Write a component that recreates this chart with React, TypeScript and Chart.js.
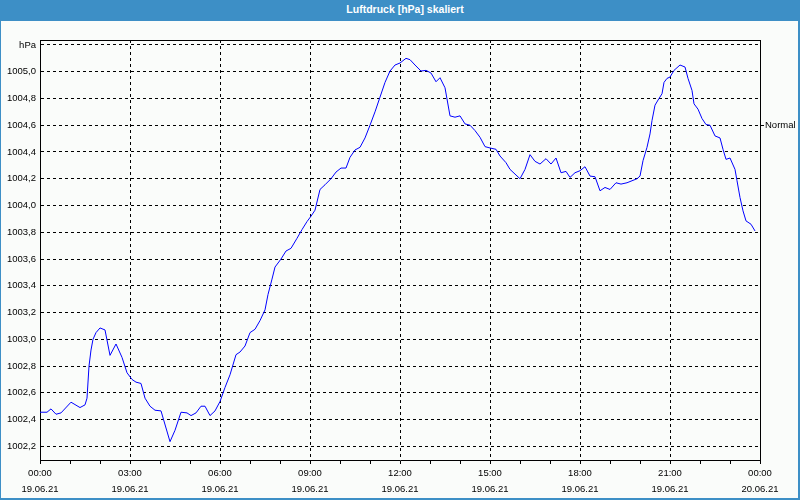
import React, { useEffect, useRef } from 'react';
import { Chart, registerables } from 'chart.js';

Chart.register(...registerables);

// minutes since 19.06.21 00:00
const timesMin = [
  0, 14, 22, 32, 42, 62, 80, 90, 94, 98, 102, 106, 112, 120, 130, 140, 152, 164, 174, 184,
  192, 202, 210, 220, 230, 242, 260, 270, 282, 294, 302, 312, 322, 330, 340, 350, 360, 370, 380, 392,
  400, 410, 420, 430, 440, 450, 456, 464, 470, 482, 492, 502, 514, 524, 534, 542, 550, 560, 570, 582,
  592, 602, 612, 620, 630, 640, 650, 660, 670, 680, 690, 700, 710, 720, 732, 740, 750, 762, 772, 782,
  792, 800, 810, 820, 830, 840, 850, 860, 870, 880, 890, 900, 912, 920, 932, 940, 950, 960, 970, 980,
  990, 1000, 1012, 1022, 1032, 1042, 1052, 1060, 1070, 1080, 1090, 1100, 1110, 1120, 1130, 1140, 1152, 1162, 1174, 1184,
  1194, 1200, 1206, 1214, 1220, 1224, 1230, 1238, 1244, 1248, 1254, 1260, 1268, 1280, 1290, 1296, 1304, 1308, 1316, 1324,
  1332, 1340, 1350, 1360, 1366, 1372, 1380, 1390, 1394, 1400, 1406, 1412, 1422, 1430,
];

const pressure = [
  1002.455, 1002.455, 1002.48, 1002.44, 1002.45, 1002.53, 1002.49, 1002.51, 1002.56, 1002.8, 1002.92, 1003.0, 1003.05, 1003.085, 1003.07, 1002.88, 1002.965, 1002.865, 1002.75, 1002.7,
  1002.68, 1002.67, 1002.56, 1002.5, 1002.47, 1002.465, 1002.235, 1002.32, 1002.455, 1002.45, 1002.43, 1002.45, 1002.5, 1002.5, 1002.43, 1002.465, 1002.535, 1002.64, 1002.735, 1002.885,
  1002.905, 1002.95, 1003.05, 1003.075, 1003.14, 1003.22, 1003.335, 1003.45, 1003.54, 1003.6, 1003.66, 1003.68, 1003.755, 1003.82, 1003.88, 1003.92, 1003.965, 1004.12, 1004.155, 1004.2,
  1004.25, 1004.28, 1004.28, 1004.36, 1004.415, 1004.435, 1004.505, 1004.6, 1004.7, 1004.81, 1004.92, 1005.005, 1005.05, 1005.065, 1005.1, 1005.09, 1005.05, 1005.005, 1005.01, 1004.99,
  1004.925, 1004.955, 1004.88, 1004.67, 1004.66, 1004.67, 1004.61, 1004.6, 1004.56, 1004.51, 1004.44, 1004.43, 1004.42, 1004.37, 1004.32, 1004.27, 1004.235, 1004.2, 1004.27, 1004.38,
  1004.33, 1004.31, 1004.35, 1004.31, 1004.355, 1004.245, 1004.255, 1004.21, 1004.245, 1004.26, 1004.29, 1004.22, 1004.215, 1004.11, 1004.135, 1004.12, 1004.17, 1004.16, 1004.17, 1004.185,
  1004.2, 1004.22, 1004.335, 1004.435, 1004.535, 1004.635, 1004.75, 1004.8, 1004.835, 1004.92, 1004.95, 1004.96, 1005.01, 1005.05, 1005.035, 1004.95, 1004.86, 1004.76, 1004.72, 1004.65,
  1004.605, 1004.6, 1004.52, 1004.505, 1004.42, 1004.345, 1004.355, 1004.27, 1004.185, 1004.06, 1003.96, 1003.885, 1003.86, 1003.81,
];

const yTickValues = [1002.2, 1002.4, 1002.6, 1002.8, 1003.0, 1003.2, 1003.4, 1003.6, 1003.8, 1004.0, 1004.2, 1004.4, 1004.6, 1004.8, 1005.0, 1005.2];
const yUnitLabel = 'hPa';
const normalValue = 1004.6;
const normalLabel = 'Normal';

const xTickHours = [0, 1, 2, 3, 4, 5, 6, 7, 8, 9, 10, 11, 12, 13, 14, 15, 16, 17, 18, 19, 20, 21, 22, 23, 24];
const xLabelHours = [0, 3, 6, 9, 12, 15, 18, 21, 24];
const xLabelTimes = ['00:00', '03:00', '06:00', '09:00', '12:00', '15:00', '18:00', '21:00', '00:00'];
const xLabelDates = ['19.06.21', '19.06.21', '19.06.21', '19.06.21', '19.06.21', '19.06.21', '19.06.21', '19.06.21', '20.06.21'];

const titleText = 'Luftdruck [hPa] skaliert';

const Y_MIN = 1002.098;
const Y_MAX = 1005.237;
const BLUE_FRAME = '#3d8fc6';
const FONT = 'Liberation Sans';

const frameTopPlugin = {
  id: 'frameTop',
  afterDatasetsDraw(chart: any) {
    const { ctx, chartArea } = chart;
    ctx.save();
    ctx.strokeStyle = '#000';
    ctx.lineWidth = 1;
    ctx.beginPath();
    ctx.moveTo(chartArea.left, Math.round(chartArea.top) + 0.5);
    ctx.lineTo(chartArea.right + 1, Math.round(chartArea.top) + 0.5);
    ctx.stroke();
    ctx.restore();
  },
};

export default function App() {
  const canvasRef = useRef<HTMLCanvasElement | null>(null);

  useEffect(() => {
    document.body.style.margin = '0';
    const canvas = canvasRef.current;
    if (!canvas) return;
    const tickFont = { family: FONT, size: 9.5, lineHeight: '16px' };
    const chart = new Chart(canvas, {
      type: 'line',
      data: {
        datasets: [
          {
            data: timesMin.map((t, i) => ({ x: t, y: pressure[i] })),
            borderColor: '#0000ff',
            borderWidth: 1,
            pointRadius: 0,
            tension: 0,
            fill: false,
          },
        ],
      },
      options: {
        responsive: false,
        animation: false,
        events: [],
        layout: { padding: { top: 40, left: 0, right: 0, bottom: 0 } },
        plugins: {
          legend: { display: false },
          tooltip: { enabled: false },
          title: { display: false },
        },
        scales: {
          x: {
            type: 'linear',
            min: 0,
            max: 1440,
            afterBuildTicks: (scale: any) => {
              scale.ticks = xTickHours.map((h) => ({ value: h * 60 }));
            },
            afterFit: (scale: any) => {
              scale.height = 40;
            },
            ticks: {
              autoSkip: false,
              maxRotation: 0,
              minRotation: 0,
              padding: 1,
              color: '#000',
              font: tickFont,
              callback: (value: any) => {
                const idx = xLabelHours.indexOf(Number(value) / 60);
                return idx >= 0 ? [xLabelTimes[idx], xLabelDates[idx]] : '';
              },
            },
            grid: {
              color: (ctx: any) => {
                const v = ctx.tick ? ctx.tick.value : -1;
                return v % 180 === 0 && v !== 0 && v !== 1440 ? '#000' : 'rgba(0,0,0,0)';
              },
              tickColor: '#000',
              tickLength: 4,
              tickBorderDash: [],
              drawTicks: true,
            },
            border: { display: true, color: '#000', width: 1, dash: [3, 3] },
          },
          y: {
            type: 'linear',
            position: 'left',
            min: Y_MIN,
            max: Y_MAX,
            afterBuildTicks: (scale: any) => {
              scale.ticks = yTickValues.map((v) => ({ value: v }));
            },
            afterFit: (scale: any) => {
              scale.width = 40;
            },
            ticks: {
              autoSkip: false,
              padding: 4,
              color: '#000',
              font: tickFont,
              callback: (value: any) => {
                const v = Number(value);
                if (Math.abs(v - yTickValues[yTickValues.length - 1]) < 1e-6) return yUnitLabel;
                return v.toFixed(1).replace('.', ',');
              },
            },
            grid: { color: '#000', drawTicks: false, lineWidth: 1 },
            border: { display: true, color: '#000', width: 1, dash: [3, 3] },
          },
          y2: {
            type: 'linear',
            position: 'right',
            min: Y_MIN,
            max: Y_MAX,
            afterBuildTicks: (scale: any) => {
              scale.ticks = [{ value: normalValue }];
            },
            afterFit: (scale: any) => {
              scale.width = 40;
            },
            ticks: {
              autoSkip: false,
              padding: 1,
              color: '#000',
              font: { family: FONT, size: 9.5 },
              callback: () => normalLabel,
            },
            grid: { drawOnChartArea: false, tickColor: '#000', tickLength: 4, tickBorderDash: [] },
            border: { display: true, color: '#000', width: 1 },
          },
        },
      },
      plugins: [frameTopPlugin],
    } as any);
    return () => chart.destroy();
  }, []);

  return (
    <div
      style={{
        position: 'relative',
        width: 800,
        height: 500,
        background: '#fafcfa',
        overflow: 'hidden',
      }}
    >
      <canvas
        ref={canvasRef}
        width={800}
        height={500}
        style={{ position: 'absolute', left: 0, top: 0, width: 800, height: 500 }}
      />
      <div
        style={{
          position: 'absolute',
          left: 0,
          top: 0,
          width: 800,
          height: 21,
          background: BLUE_FRAME,
          color: '#fff',
          fontFamily: FONT,
          fontWeight: 'bold',
          fontSize: 10.5,
          lineHeight: '19px',
          textAlign: 'center',
          paddingLeft: 10,
          boxSizing: 'border-box',
        }}
      >
        {titleText}
      </div>
      <div
        style={{
          position: 'absolute',
          left: 0,
          top: 0,
          width: 800,
          height: 500,
          boxSizing: 'border-box',
          borderLeft: `1px solid ${BLUE_FRAME}`,
          borderRight: `2px solid ${BLUE_FRAME}`,
          borderBottom: `2px solid ${BLUE_FRAME}`,
          pointerEvents: 'none',
        }}
      />
    </div>
  );
}
